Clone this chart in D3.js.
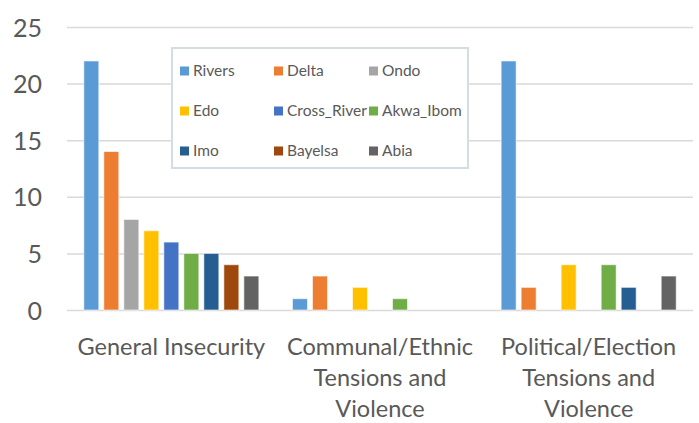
<!DOCTYPE html>
<html><head><meta charset="utf-8">
<script src="https://cdn.jsdelivr.net/npm/d3@7"></script>
<style>
html,body{margin:0;padding:0;background:#fff;}
text{font-family:Lato,sans-serif;fill:#595959;}
</style></head>
<body><svg id="c" width="699" height="423"></svg>
<script>
const categories = ["General Insecurity", "Communal/Ethnic Tensions and Violence", "Political/Election Tensions and Violence"];
const categoryLines = [["General Insecurity"], ["Communal/Ethnic", "Tensions and", "Violence"], ["Political/Election", "Tensions and", "Violence"]];
const seriesNames = ["Rivers", "Delta", "Ondo", "Edo", "Cross_River", "Akwa_Ibom", "Imo", "Bayelsa", "Abia"];
const seriesColors = ["#5B9BD5", "#ED7D31", "#A5A5A5", "#FFC000", "#4472C4", "#70AD47", "#255E91", "#9E480E", "#636363"];
const Rivers = [22, 1, 22];
const Delta = [14, 3, 2];
const Ondo = [8, 0, 0];
const Edo = [7, 2, 4];
const Cross_River = [6, 0, 0];
const Akwa_Ibom = [5, 1, 4];
const Imo = [5, 0, 2];
const Bayelsa = [4, 0, 0];
const Abia = [3, 0, 3];
const seriesValues = [Rivers, Delta, Ondo, Edo, Cross_River, Akwa_Ibom, Imo, Bayelsa, Abia];
const yTicks = [0, 5, 10, 15, 20, 25];

const svg = d3.select("#c");
const mLeft = 67, mRight = 693, mTop = 27, mBottom = 310;

const x0 = d3.scaleBand().domain(categories).range([mLeft, mRight]).paddingInner(0).paddingOuter(0);
const x1 = d3.scaleBand().domain(seriesNames).range([0, x0.bandwidth()]).paddingInner(0.25).paddingOuter(0.84);
const y = d3.scaleLinear().domain([0, 25]).range([mBottom, mTop]);

// gridlines
const yAxis = d3.axisLeft(y).tickValues(yTicks).tickSize(-(mRight - mLeft)).tickPadding(25);
const gA = svg.append("g").attr("transform", `translate(${mLeft},0)`).call(yAxis);
gA.select(".domain").remove();
gA.selectAll(".tick line").attr("stroke", "#d9d9d9").attr("stroke-width", 1.5);
gA.selectAll(".tick text").attr("font-size", 25).attr("fill", "#595959").attr("dy", "0.36em");

// bars
const groups = svg.append("g").selectAll("g").data(categories).join("g")
  .attr("transform", d => `translate(${x0(d)},0)`);
groups.selectAll("rect").data((d, i) => seriesNames.map((s, j) => ({s, j, v: seriesValues[j][i]})).filter(o => o.v > 0))
  .join("rect")
  .attr("x", o => x1(o.s))
  .attr("width", x1.bandwidth())
  .attr("y", o => y(o.v))
  .attr("height", o => y(0) - y(o.v))
  .attr("fill", o => seriesColors[o.j])
  .attr("stroke", "rgba(255,255,255,0.6)")
  .attr("stroke-width", 1);

// category labels
const xl = svg.append("g");
categories.forEach((c, i) => {
  const t = xl.append("text").attr("text-anchor", "middle").attr("font-size", 23.5)
    .attr("x", x0(c) + x0.bandwidth() / 2);
  categoryLines[i].forEach((ln, k) => {
    t.append("tspan").attr("x", x0(c) + x0.bandwidth() / 2).attr("y", 355 + k * 31).text(ln);
  });
});

// legend
const lg = svg.append("g");
lg.append("rect").attr("x", 172).attr("y", 48).attr("width", 296).attr("height", 120)
  .attr("fill", "#fff").attr("stroke", "#d5dde2").attr("stroke-width", 2);
const colX = [180, 274, 369], rowY = [71, 111, 151];
seriesNames.forEach((s, i) => {
  const cx = colX[i % 3], cy = rowY[Math.floor(i / 3)];
  lg.append("rect").attr("x", cx).attr("y", cy - 4.5).attr("width", 9).attr("height", 9).attr("fill", seriesColors[i]);
  lg.append("text").attr("x", cx + 13).attr("y", cy).attr("dy", "0.35em").attr("font-size", 15.5).text(s);
});
</script></body></html>
